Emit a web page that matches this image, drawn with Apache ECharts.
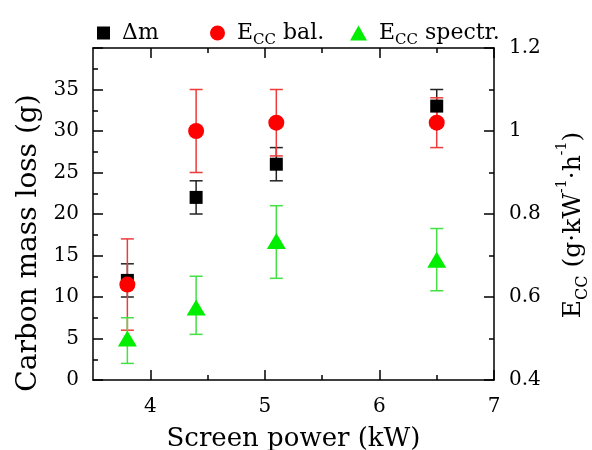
<!DOCTYPE html>
<html>
<head>
<meta charset="utf-8">
<script src="https://cdn.jsdelivr.net/npm/echarts@6/dist/echarts.min.js"></script>
<style>
  html, body { margin: 0; padding: 0; background: #fff; }
  #chart { width: 592px; height: 450px; }
</style>
</head>
<body>
<div id="chart"></div>
<script>
// screen power (kW)
const xValues = [3.8, 4.4, 5.1, 6.5];
// carbon mass loss (g), left axis
const massLoss = [12, 22, 26, 33];
const massLossLow = [10, 20, 24, 31];
const massLossHigh = [14, 24, 28, 35];
// E_CC balance, right axis
const eccBal = [0.63, 1.0, 1.02, 1.02];
const eccBalLow = [0.52, 0.90, 0.94, 0.96];
const eccBalHigh = [0.74, 1.10, 1.10, 1.08];
// E_CC spectroscopy, right axis
const eccSpec = [0.50, 0.575, 0.735, 0.69];
const eccSpecLow = [0.44, 0.51, 0.645, 0.615];
const eccSpecHigh = [0.55, 0.65, 0.82, 0.765];

const xMajor = [4, 5, 6, 7];
const xMinor = [4.5, 5.5, 6.5];

const FONT = 'DejaVu Serif';

function pts(xs, ys) {
    return xs.map((x, i) => [x, ys[i]]);
}

function errorSeries(color, yIdx, low, high) {
    return {
        type: 'custom',
        yAxisIndex: yIdx,
        z: 1,
        data: xValues.map((x, i) => [x, low[i], high[i]]),
        renderItem: function (params, api) {
            const top = api.coord([api.value(0), api.value(2)]);
            const bot = api.coord([api.value(0), api.value(1)]);
            const w = 6.5;
            const style = { stroke: color, lineWidth: 1.5 };
            return {
                type: 'group',
                children: [
                    { type: 'line', shape: { x1: top[0], y1: top[1], x2: bot[0], y2: bot[1] }, style: style },
                    { type: 'line', shape: { x1: top[0] - w, y1: top[1], x2: top[0] + w, y2: top[1] }, style: style },
                    { type: 'line', shape: { x1: bot[0] - w, y1: bot[1], x2: bot[0] + w, y2: bot[1] }, style: style }
                ]
            };
        }
    };
}

function legendAt(left, item, w, h) {
    return {
        top: 13,
        left: left,
        itemWidth: w,
        itemHeight: h,
        data: [item],
        formatter: function (name) {
            if (name === 'dm') return '{pad|}Δm';
            if (name === 'bal') return '{pad|}E{sub|CC} bal.';
            return '{pad|}E{sub|CC} spectr.';
        },
        textStyle: {
            fontFamily: FONT,
            fontSize: 22,
            color: '#000',
            lineHeight: 30,
            rich: {
                pad: { width: 7 },
                sub: { fontFamily: FONT, fontSize: 15, verticalAlign: 'bottom', lineHeight: 30 }
            }
        }
    };
}

const lineStyle = { color: '#000', width: 1.5 };
const xBase = { type: 'value', min: 3.5, max: 7, splitLine: { show: false } };

const chart = echarts.init(document.getElementById('chart'));
chart.setOption({
    animation: false,
    textStyle: { fontFamily: FONT },
    grid: { left: 93, right: 98, top: 48, bottom: 70, containLabel: false, outerBoundsMode: 'none' },
    legend: [
        legendAt(92, { name: 'dm', icon: 'rect' }, 13, 13),
        legendAt(205, { name: 'bal', icon: 'circle' }, 15, 15),
        legendAt(345, { name: 'spec', icon: 'triangle' }, 17, 15)
    ],
    xAxis: [
        Object.assign({}, xBase, {
            position: 'bottom',
            name: 'Screen power (kW)',
            nameLocation: 'middle',
            nameGap: 46,
            nameTextStyle: { fontFamily: FONT, fontSize: 26, color: '#000' },
            axisLine: { show: true, onZero: false, lineStyle: lineStyle },
            axisTick: { show: true, inside: true, length: 10, customValues: xMajor, lineStyle: lineStyle },
            axisLabel: { customValues: xMajor, margin: 17, fontFamily: FONT, fontSize: 20, color: '#000' }
        }),
        Object.assign({}, xBase, {
            position: 'bottom',
            axisLine: { show: false },
            axisTick: { show: true, inside: true, length: 5, customValues: xMinor, lineStyle: lineStyle },
            axisLabel: { show: false }
        }),
        Object.assign({}, xBase, {
            position: 'top',
            axisLine: { show: true, onZero: false, lineStyle: lineStyle },
            axisTick: { show: true, inside: true, length: 10, customValues: xMajor, lineStyle: lineStyle },
            axisLabel: { show: false }
        }),
        Object.assign({}, xBase, {
            position: 'top',
            axisLine: { show: false },
            axisTick: { show: true, inside: true, length: 5, customValues: xMinor, lineStyle: lineStyle },
            axisLabel: { show: false }
        })
    ],
    yAxis: [
        {
            type: 'value',
            position: 'left',
            min: 0,
            max: 40,
            interval: 5,
            name: 'Carbon mass loss (g)',
            nameLocation: 'middle',
            nameRotate: 90,
            nameGap: 43,
            nameTextStyle: { fontFamily: FONT, fontSize: 28, color: '#000', padding: [0, 58, 0, 0] },
            splitLine: { show: false },
            axisLine: { show: true, onZero: false, lineStyle: lineStyle },
            axisTick: { show: true, inside: true, length: 10, lineStyle: lineStyle },
            minorTick: { show: true, splitNumber: 2, length: 5, lineStyle: lineStyle },
            axisLabel: {
                margin: 14, fontFamily: FONT, fontSize: 20, color: '#000',
                formatter: v => (v === 40 ? '' : String(v))
            }
        },
        {
            type: 'value',
            position: 'right',
            min: 0.4,
            max: 1.2,
            interval: 0.2,
            name: 'E{sub|CC} (g·kW{sup|-1}·h{sup|-1})',
            nameLocation: 'middle',
            nameRotate: 90,
            nameGap: 61,
            nameTextStyle: {
                fontFamily: FONT, fontSize: 25, color: '#000', lineHeight: 36, padding: [0, 22, 0, 0],
                rich: {
                    sub: { fontFamily: FONT, fontSize: 16, verticalAlign: 'bottom', lineHeight: 36 },
                    sup: { fontFamily: FONT, fontSize: 14, verticalAlign: 'top', lineHeight: 36 }
                }
            },
            splitLine: { show: false },
            axisLine: { show: true, onZero: false, lineStyle: lineStyle },
            axisTick: { show: true, inside: true, length: 10, lineStyle: lineStyle },
            minorTick: { show: true, splitNumber: 2, length: 5, lineStyle: lineStyle },
            axisLabel: {
                margin: 15, fontFamily: FONT, fontSize: 20, color: '#000',
                formatter: v => String(Math.round(v * 10) / 10)
            }
        }
    ],
    series: [
        errorSeries('#222', 0, massLossLow, massLossHigh),
        errorSeries('#ee3b3b', 1, eccBalLow, eccBalHigh),
        errorSeries('#44e044', 1, eccSpecLow, eccSpecHigh),
        {
            name: 'dm',
            type: 'scatter',
            yAxisIndex: 0,
            symbol: 'rect',
            symbolSize: 13,
            z: 3,
            itemStyle: { color: '#000', opacity: 1 },
            data: pts(xValues, massLoss)
        },
        {
            name: 'bal',
            type: 'scatter',
            yAxisIndex: 1,
            symbol: 'circle',
            symbolSize: 16,
            z: 4,
            itemStyle: { color: '#ff0000', opacity: 1 },
            data: pts(xValues, eccBal)
        },
        {
            name: 'spec',
            type: 'scatter',
            yAxisIndex: 1,
            symbol: 'triangle',
            symbolSize: [19, 16],
            z: 5,
            itemStyle: { color: '#00ee00', opacity: 1 },
            data: pts(xValues, eccSpec)
        }
    ]
});
</script>
</body>
</html>
